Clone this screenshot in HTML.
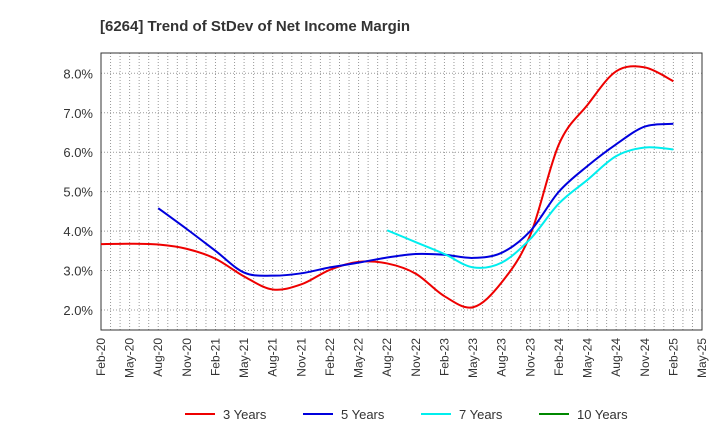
<!DOCTYPE html>
<html><head><meta charset="utf-8"><style>
body{margin:0;background:#fff;font-family:"Liberation Sans",sans-serif;}
</style></head><body>
<svg id="c" width="720" height="440" xmlns="http://www.w3.org/2000/svg"></svg>
<script>
const xLabels=["Feb-20","May-20","Aug-20","Nov-20","Feb-21","May-21","Aug-21","Nov-21","Feb-22","May-22","Aug-22","Nov-22","Feb-23","May-23","Aug-23","Nov-23","Feb-24","May-24","Aug-24","Nov-24","Feb-25","May-25"];
const yTicks=[2,3,4,5,6,7,8];
const s3=[3.67,3.68,3.66,3.55,3.3,2.85,2.52,2.65,3.02,3.22,3.18,2.92,2.35,2.07,2.7,3.9,6.2,7.2,8.05,8.15,7.8];
const s5=[null,null,4.58,4.05,3.5,2.95,2.87,2.93,3.08,3.2,3.33,3.42,3.4,3.32,3.45,4.0,5.0,5.65,6.2,6.65,6.72];
const s7=[null,null,null,null,null,null,null,null,null,null,4.02,3.72,3.42,3.08,3.2,3.8,4.7,5.3,5.9,6.12,6.07];
const s10=[];
const L=101,R=702,T=53,B=330;
const months=63;
const X=q=>L+q*3*(R-L)/months;
const Y=v=>73.3+(8-v)*39.45;
const svg=document.getElementById('c');
const NS="http://www.w3.org/2000/svg";
function mk(t,a,p){const e=document.createElementNS(NS,t);for(const k in a)e.setAttribute(k,a[k]);(p||svg).appendChild(e);return e;}
const title=mk('text',{x:100,y:31,'font-size':15,'font-weight':'bold',fill:'#333'});


title.textContent="[6264]  Trend of StDev of Net Income Margin";
const grid=mk('g',{stroke:'#999','stroke-width':1,'stroke-dasharray':'1,2'});


for(let m=1;m<months;m++){const x=L+m*(R-L)/months;mk('line',{x1:x,x2:x,y1:T,y2:B},grid);}
yTicks.forEach(v=>{mk('line',{x1:L,x2:R,y1:Y(v),y2:Y(v)},grid);
const t=mk('text',{x:L-8,y:Y(v)+5,'text-anchor':'end','font-size':13,fill:'#333'});


t.textContent=v.toFixed(1)+"%";});
const frame=mk('rect',{x:L,y:T,width:R-L,height:B-T,fill:'none',stroke:'#333'});


xLabels.forEach((l,i)=>{const x=X(i);const t=mk('text',{x:x+4,y:B+8,'text-anchor':'end','font-size':12,fill:'#333',transform:`rotate(-90 ${x+4} ${B+8})`});


t.textContent=l;});
function path(d){const p=[];d.forEach((v,i)=>{if(v!=null)p.push([X(i),Y(v)]);});if(p.length<2)return "";
let s=`M${p[0][0]},${p[0][1]}`;
for(let i=0;i<p.length-1;i++){const p0=p[i-1]||p[i],p1=p[i],p2=p[i+1],p3=p[i+2]||p2;
s+=`C${p1[0]+(p2[0]-p0[0])/6},${p1[1]+(p2[1]-p0[1])/6} ${p2[0]-(p3[0]-p1[0])/6},${p2[1]-(p3[1]-p1[1])/6} ${p2[0]},${p2[1]}`;}
return s;}
[[s3,'#ee0000','line-3-years'],[s5,'#0000dd','line-5-years'],[s7,'#00eeee','line-7-years'],[s10,'#008800','line-10-years']].forEach(([d,c,n])=>{
const pd=path(d);if(!pd)return;const e=mk('path',{d:pd,fill:'none',stroke:c,'stroke-width':2});

});
const leg=[["3 Years",'#ee0000',185],["5 Years",'#0000dd',303],["7 Years",'#00eeee',421],["10 Years",'#008800',539]];
leg.forEach(([l,c,x])=>{const g=mk('g',{});


mk('line',{x1:x,x2:x+30,y1:414,y2:414,stroke:c,'stroke-width':2},g);
const t=mk('text',{x:x+38,y:419,'font-size':13,fill:'#333'},g);t.textContent=l;});
</script>
</body></html>
